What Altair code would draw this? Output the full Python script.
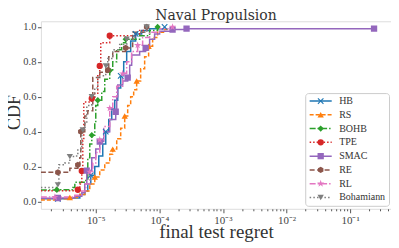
import json
import altair as alt
import pandas as pd

methods = ["HB", "RS", "BOHB", "TPE", "SMAC", "RE", "RL", "Bohamiann"]
colors = ["#1f77b4", "#ff7f0e", "#2ca02c", "#d62728", "#9467bd", "#8c564b", "#e377c2", "#7f7f7f"]
dashes = [[1, 0], [4, 2], [6, 2, 1.5, 2], [1.5, 2], [1, 0], [5, 2.5], [6, 2, 1.5, 2], [1.5, 2.2]]
shapes = [
    "M-1,-0.75L-0.75,-1L0,-0.25L0.75,-1L1,-0.75L0.25,0L1,0.75L0.75,1L0,0.25L-0.75,1L-1,0.75L-0.25,0Z",
    "triangle-up",
    "diamond",
    "circle",
    "square",
    "M0,-1L0.866,-0.5L0.866,0.5L0,1L-0.866,0.5L-0.866,-0.5Z",
    "M0,-1.2L0.27,-0.37L1.14,-0.37L0.44,0.14L0.71,0.97L0,0.46L-0.71,0.97L-0.44,0.14L-1.14,-0.37L-0.27,-0.37Z",
    "triangle-down",
]

HB_x = [1.37e-6, 2.535e-6, 3.91e-6, 5.61e-6, 6.72e-6, 7.49e-6, 8.35e-6, 9.645e-6, 1.115e-5, 1.288e-5, 1.435e-5,
        1.599e-5, 1.782e-5, 1.986e-5, 2.214e-5, 2.467e-5, 2.75e-5, 3.064e-5, 3.54e-5, 4.24e-5, 5.267e-5, 7.03e-5, 1.209e-4]
HB_y = [0.015, 0.015, 0.02, 0.04, 0.06, 0.10, 0.15, 0.20, 0.26, 0.33, 0.40, 0.47, 0.53, 0.58, 0.65, 0.72, 0.80,
        0.86, 0.92, 0.96, 0.98, 0.99, 1.0]
HB_marks = [1, 6, 10, 15, 19, 22]

RS_x = [1.37e-6, 2.725e-6, 3.91e-6, 5.61e-6, 6.72e-6, 8.05e-6, 9.645e-6, 1.155e-5, 1.384e-5, 1.658e-5, 1.848e-5,
        2.135e-5, 2.467e-5, 2.851e-5, 3.177e-5, 3.54e-5, 3.945e-5, 4.397e-5, 5.08e-5, 5.87e-5, 6.78e-5, 7.84e-5,
        9.39e-5, 1.209e-4, 1.735e-4]
RS_y = [0.008, 0.015, 0.023, 0.04, 0.06, 0.10, 0.14, 0.18, 0.22, 0.27, 0.30, 0.36, 0.42, 0.49, 0.55, 0.60, 0.64,
        0.69, 0.76, 0.83, 0.89, 0.94, 0.97, 0.985, 0.99]
RS_marks = [2, 6, 10, 13, 17, 20]

BOHB_x = [1.37e-6, 2.445e-6, 4.36e-6, 4.685e-6, 6.97e-6, 7.49e-6, 8.05e-6, 8.655e-6, 9.645e-6, 1.0e-5, 1.075e-5,
          1.242e-5, 1.384e-5, 1.658e-5, 1.848e-5, 2.135e-5, 2.558e-5, 2.955e-5, 4.9e-5, 7.03e-5, 9.39e-5]
BOHB_y = [0.065, 0.067, 0.08, 0.11, 0.12, 0.25, 0.33, 0.38, 0.45, 0.55, 0.58, 0.63, 0.70, 0.75, 0.80, 0.87, 0.91,
          0.93, 0.95, 0.98, 1.0]
BOHB_marks = [1, 7, 10, 13, 17, 20]

TPE_x = [1.37e-6, 5.22e-6, 5.61e-6, 6.03e-6, 6.25e-6, 6.48e-6, 8.655e-6, 9.645e-6, 1.075e-5, 1.155e-5, 1.198e-5,
         1.658e-5, 4.09e-5, 4.9e-5, 6.31e-5]
TPE_y = [0.062, 0.067, 0.10, 0.175, 0.35, 0.57, 0.59, 0.62, 0.72, 0.777, 0.91, 0.95, 0.96, 0.98, 1.0]
TPE_marks = [1, 3, 6, 9, 11]

SMAC_x = [1.37e-6, 2.535e-6, 4.685e-6, 6.03e-6, 6.72e-6, 7.225e-6, 8.655e-6, 1.0e-5, 1.155e-5, 1.335e-5, 1.658e-5,
          2.06e-5, 2.135e-5, 2.214e-5, 2.652e-5, 3.177e-5, 3.415e-5, 3.67e-5, 4.9e-5, 6.085e-5, 7.03e-5, 8.42e-5,
          1.009e-4, 1.614e-4, 2.677e-4, 0.2379]
SMAC_y = [0.018, 0.02, 0.03, 0.05, 0.10, 0.177, 0.25, 0.30, 0.343, 0.40, 0.47, 0.514, 0.60, 0.667, 0.69, 0.71,
          0.78, 0.84, 0.86, 0.88, 0.93, 0.96, 0.975, 0.985, 0.99, 0.99]
SMAC_marks = [1, 5, 8, 11, 15, 19, 23, 24, 25]

RE_x = [1.37e-6, 2.535e-6, 3.91e-6, 5.22e-6, 5.61e-6, 5.815e-6, 6.72e-6, 7.49e-6, 8.975e-6, 1.155e-5, 1.543e-5,
        1.599e-5, 1.848e-5, 2.955e-5, 3.805e-5, 6.31e-5]
RE_y = [0.167, 0.167, 0.19, 0.21, 0.25, 0.40, 0.49, 0.52, 0.71, 0.74, 0.753, 0.83, 0.86, 0.88, 0.97, 1.0]
RE_marks = [1, 3, 5, 10, 13, 15]

RL_x = [1.37e-6, 2.275e-6, 4.685e-6, 6.03e-6, 6.97e-6, 8.05e-6, 8.975e-6, 1.0e-5, 1.155e-5, 1.335e-5, 1.658e-5,
        1.848e-5, 2.135e-5, 2.652e-5, 3.064e-5, 3.67e-5, 4.558e-5, 5.46e-5, 7.03e-5, 1.009e-4, 1.614e-4]
RL_y = [0.025, 0.025, 0.035, 0.06, 0.10, 0.17, 0.22, 0.28, 0.353, 0.43, 0.534, 0.60, 0.66, 0.733, 0.80, 0.86,
        0.895, 0.94, 0.97, 0.99, 1.0]
RL_marks = [1, 5, 8, 10, 13, 16, 20]

BOH_x = [1.37e-6, 2.535e-6, 2.63e-6, 3.265e-6, 3.91e-6, 4.855e-6, 5.22e-6, 6.03e-6, 6.25e-6, 6.72e-6, 7.225e-6,
         8.655e-6, 9.645e-6, 1.075e-5, 1.435e-5, 1.543e-5, 1.848e-5, 2.38e-5, 3.064e-5, 4.09e-5, 6.31e-5]
BOH_y = [0.08, 0.095, 0.21, 0.22, 0.257, 0.26, 0.30, 0.40, 0.41, 0.45, 0.55, 0.60, 0.65, 0.72, 0.777, 0.82, 0.87,
         0.90, 0.93, 0.97, 1.0]
BOH_marks = [1, 4, 8, 11, 14, 18, 20]

series = {
    "HB": (HB_x, HB_y, HB_marks),
    "RS": (RS_x, RS_y, RS_marks),
    "BOHB": (BOHB_x, BOHB_y, BOHB_marks),
    "TPE": (TPE_x, TPE_y, TPE_marks),
    "SMAC": (SMAC_x, SMAC_y, SMAC_marks),
    "RE": (RE_x, RE_y, RE_marks),
    "RL": (RL_x, RL_y, RL_marks),
    "Bohamiann": (BOH_x, BOH_y, BOH_marks),
}

major_ticks = [1e-5, 1e-4, 1e-3, 1e-2, 1e-1]
major_labels = ["10⁻⁵", "10⁻⁴", "10⁻³", "10⁻²", "10⁻¹"]
y_ticks = [0.0, 0.2, 0.4, 0.6, 0.8, 1.0]
x_domain = [1.372e-6, 0.4395]
y_domain = [-0.042, 1.0326]

minor_ticks = []
for e in range(-6, 0):
    for m in range(1, 10):
        v = float(f"{m}e{e}")
        if x_domain[0] <= v <= x_domain[1]:
            minor_ticks.append(v)

line_rows, point_rows = [], []
for k, name in enumerate(methods):
    xs, ys, mk = series[name]
    for i, (a, b) in enumerate(zip(xs, ys)):
        line_rows.append({"method": name, "x": a, "y": b, "k": k})
        if i in mk:
            point_rows.append({"m2": name, "x": a, "y": b, "k": k})
lines_df = pd.DataFrame(line_rows)
points_df = pd.DataFrame(point_rows)

SERIF = "Liberation Serif"
maj_json = json.dumps(major_ticks)
label_expr = f"{json.dumps(major_labels, ensure_ascii=False)}[indexof({maj_json}, datum.value)] || ''"
major_test = f"indexof({maj_json}, datum.value) >= 0"

x_axis = alt.Axis(
    values=minor_ticks, labelExpr=label_expr,
    tickSize={"condition": {"test": major_test, "value": 4}, "value": 2},
    labelFont=SERIF, labelFontSize=11, labelColor="#444", tickColor="#555",
    domain=False, grid=False, labelPadding=2, labelOverlap=False, labelFlush=False,
    title="final test regret", titleFont=SERIF, titleFontSize=19, titleFontWeight="normal",
    titleColor="#333", titleY=28.5, titleBaseline="alphabetic",
)
y_axis = alt.Axis(
    values=y_ticks, format=".1f", tickSize=3.5, labelFont=SERIF, labelFontSize=10.5, labelColor="#444",
    tickColor="#555", domain=False, grid=False, labelPadding=1.5, labelOverlap=False, labelFlush=False,
    title="CDF", titleFont=SERIF, titleFontSize=18, titleFontWeight="normal", titleColor="#333",
    titleX=-21, titleY=91, titleBaseline="alphabetic", titleAlign="center",
)
x_scale = alt.Scale(type="log", domain=x_domain, nice=False)
y_scale = alt.Scale(domain=y_domain, nice=False, zero=False)

legend_common = dict(
    title=None, orient="none", legendX=265, legendY=72, symbolSize=40, symbolStrokeWidth=1.5,
    symbolOffset=7.5, labelOffset=13.5, labelFont=SERIF, labelFontSize=10, labelColor="#333",
    rowPadding=3.8, padding=3,
)

lines = alt.Chart(lines_df).mark_line(interpolate="step-after", strokeWidth=1.5, clip=True).encode(
    x=alt.X("x:Q", scale=x_scale, axis=x_axis),
    y=alt.Y("y:Q", scale=y_scale, axis=y_axis),
    color=alt.Color("method:N", scale=alt.Scale(domain=methods, range=colors),
                    legend=alt.Legend(symbolType="M-3.5,0L3.5,0", fillColor="white", strokeColor="#cccccc",
                                      cornerRadius=3, **legend_common)),
    strokeDash=alt.StrokeDash("method:N", scale=alt.Scale(domain=methods, range=dashes),
                              legend=alt.Legend(symbolType="M-3.5,0L3.5,0", fillColor="white",
                                                strokeColor="#cccccc", cornerRadius=3, **legend_common)),
    order=alt.Order("k:Q"),
)

points = alt.Chart(points_df).mark_point(filled=True, size=40, opacity=1, clip=True).encode(
    x=alt.X("x:Q", scale=x_scale, axis=x_axis),
    y=alt.Y("y:Q", scale=y_scale, axis=y_axis),
    color=alt.Color("m2:N", scale=alt.Scale(domain=methods, range=colors),
                    legend=alt.Legend(labelOpacity=0, **legend_common)),
    shape=alt.Shape("m2:N", scale=alt.Scale(domain=methods, range=shapes),
                    legend=alt.Legend(labelOpacity=0, **legend_common)),
)

chart = alt.layer(lines, points).resolve_scale(
    color="independent", shape="independent", strokeDash="independent"
).properties(
    width=351, height=188,
    title=alt.TitleParams("Naval Propulsion", font="DejaVu Serif", fontSize=14, fontWeight="normal",
                          color="#333", anchor="middle", offset=-1.5, frame="group"),
    autosize=alt.AutoSizeParams(type="none"),
    padding={"left": 33, "top": 13, "right": 0, "bottom": 40},
).configure_view(stroke="#555", strokeWidth=1).configure(background="white")

chart.save("out.html", embed_options={"renderer": "svg", "actions": False})
